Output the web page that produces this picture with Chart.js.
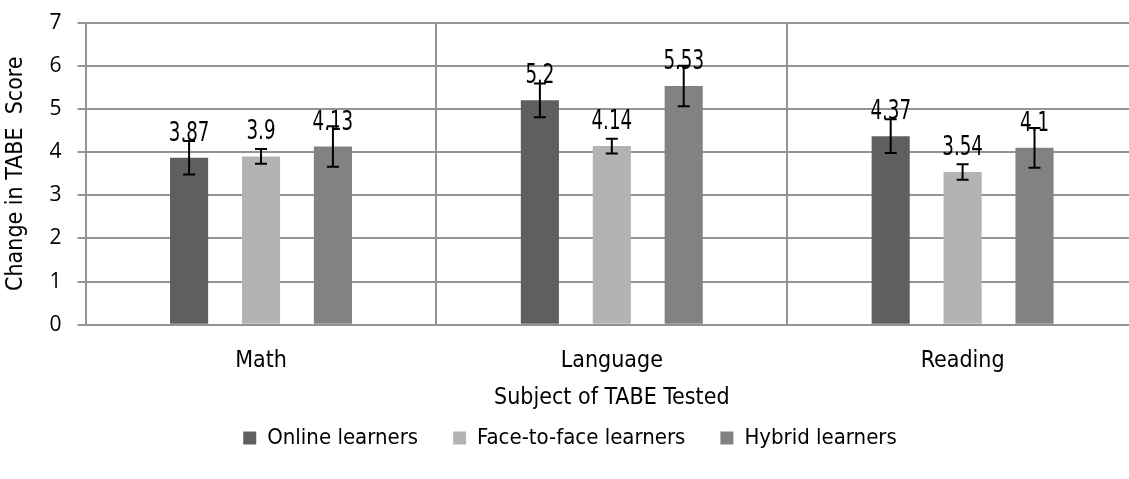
<!DOCTYPE html>
<html>
<head>
<meta charset="utf-8">
<script src="https://cdn.jsdelivr.net/npm/chart.js@4.4.0/dist/chart.umd.min.js"></script>
<style>
html,body{margin:0;padding:0;background:#fff;overflow:hidden;}
#wrap{width:1150px;height:485px;position:relative;top:-6px;}
</style>
</head>
<body>
<div id="wrap"><canvas id="c"></canvas></div>
<script>
const categories = ['Math', 'Language', 'Reading'];
const seriesNames = ['Online learners', 'Face-to-face learners', 'Hybrid learners'];
const onlineValues = [3.87, 5.2, 4.37];
const faceValues = [3.9, 4.14, 3.54];
const hybridValues = [4.13, 5.53, 4.1];
const onlineErrors = [0.39, 0.39, 0.39];
const faceErrors = [0.17, 0.17, 0.18];
const hybridErrors = [0.47, 0.47, 0.46];
const yTicks = [0, 1, 2, 3, 4, 5, 6, 7];
const colors = ['#5f5f5f', '#b3b3b3', '#828282'];

const NARROW = '"Liberation Sans Narrow", "Arial Narrow", "DejaVu Sans Condensed", sans-serif';

const errorSets = [onlineErrors, faceErrors, hybridErrors];

const labelsAndErrors = {
  id: 'labelsAndErrors',
  afterDatasetsDraw(chart) {
    const ctx = chart.ctx;
    const y = chart.scales.y;
    chart.data.datasets.forEach((ds, di) => {
      const meta = chart.getDatasetMeta(di);
      meta.data.forEach((bar, i) => {
        const v = ds.data[i];
        ctx.save();
        ctx.translate(bar.x, bar.y - 17);
        ctx.scale(0.78, 1);
        ctx.fillStyle = '#000';
        ctx.font = '26px ' + NARROW;
        ctx.textAlign = 'center';
        ctx.textBaseline = 'alphabetic';
        ctx.fillText(String(v), 0, 0);
        ctx.restore();
      });
    });
    ctx.save();
    chart.data.datasets.forEach((ds, di) => {
      const meta = chart.getDatasetMeta(di);
      meta.data.forEach((bar, i) => {
        const v = ds.data[i];
        const e = errorSets[di][i];
        const yt = y.getPixelForValue(v + e);
        const yb = y.getPixelForValue(v - e);
        ctx.strokeStyle = '#000';
        ctx.lineWidth = 2;
        ctx.beginPath();
        ctx.moveTo(bar.x, yt); ctx.lineTo(bar.x, yb);
        ctx.moveTo(bar.x - 6, yt); ctx.lineTo(bar.x + 6, yt);
        ctx.moveTo(bar.x - 6, yb); ctx.lineTo(bar.x + 6, yb);
        ctx.stroke();
      });
    });
    ctx.restore();
  }
};

new Chart(document.getElementById('c'), {
  type: 'bar',
  data: {
    labels: categories,
    datasets: [
      { label: seriesNames[0], data: onlineValues, backgroundColor: colors[0] },
      { label: seriesNames[1], data: faceValues, backgroundColor: colors[1] },
      { label: seriesNames[2], data: hybridValues, backgroundColor: colors[2] }
    ]
  },
  options: {
    responsive: true,
    maintainAspectRatio: false,
    animation: false,
    layout: { padding: { top: 0, right: 12, left: 2, bottom: 20 } },
    datasets: { bar: { categoryPercentage: 0.615, barPercentage: 0.53 } },
    plugins: {
      tooltip: { enabled: false },
      legend: {
        position: 'bottom',
        labels: {
          boxWidth: 13, boxHeight: 13, padding: 35,
          color: '#000',
          font: { family: NARROW, size: 22 }
        }
      }
    },
    scales: {
      x: {
        grid: { color: '#939393', lineWidth: 2, drawTicks: false, offset: true },
        border: { color: '#939393', width: 2 },
        ticks: { color: '#000', padding: 22, font: { family: NARROW, size: 23 } },
        title: { display: true, text: 'Subject of TABE Tested', color: '#000', padding: { top: -12, bottom: -20 }, font: { family: NARROW, size: 23 } }
      },
      y: {
        min: 0, max: 7,
        afterBuildTicks(scale) { scale.ticks = yTicks.map(v => ({ value: v })); },
        grid: { color: '#939393', lineWidth: 2, tickLength: 8 },
        border: { color: '#939393', width: 2 },
        ticks: { color: '#000', padding: 16, font: { family: '"Open Sans", sans-serif', size: 21 } },
        title: { display: true, text: 'Change in TABE  Score', color: '#000', padding: { top: 0, bottom: 4 }, font: { family: NARROW, size: 23 } }
      }
    }
  },
  plugins: [labelsAndErrors]
});
</script>
</body>
</html>
